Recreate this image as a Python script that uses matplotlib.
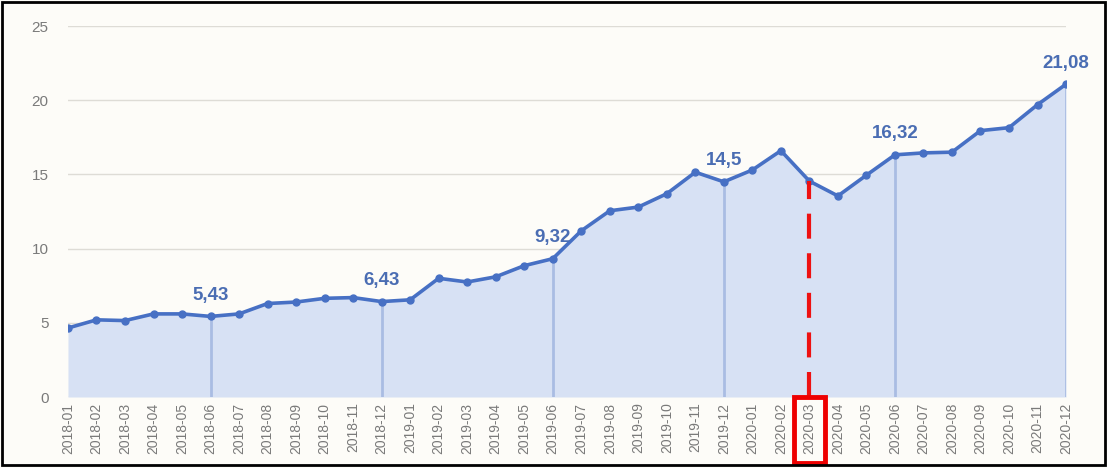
"""Monthly series 2018-2020 with highlighted points."""

import matplotlib
matplotlib.use("Agg")
import matplotlib.pyplot as plt
import matplotlib.transforms as mtransforms
from matplotlib.patches import Rectangle

months = [f"{y}-{m:02d}" for y in (2018, 2019, 2020) for m in range(1, 13)]
values = [
    4.65, 5.2, 5.15, 5.6, 5.6, 5.43, 5.6, 6.3, 6.4, 6.65, 6.7, 6.43,
    6.55, 8.0, 7.75, 8.1, 8.85, 9.32, 11.2, 12.55, 12.8, 13.7, 15.15, 14.5,
    15.3, 16.6, 14.55, 13.55, 14.95, 16.32, 16.45, 16.5, 17.95, 18.15, 19.7, 21.08,
]
labelled = ["2018-06", "2018-12", "2019-06", "2019-12", "2020-06", "2020-12"]
label_texts = ["5,43", "6,43", "9,32", "14,5", "16,32", "21,08"]
highlight = "2020-03"

LINE = "#4770c4"
FILL = "#d7e1f4"
DROP = "#a9bce3"
TEXT = "#4a6db3"
GREY = "#7a7a7a"
BG = "#fdfcf8"

fig = plt.figure(figsize=(11.07, 4.68), dpi=100, facecolor=BG)
ax = fig.add_axes([0.0614, 0.1517, 0.9016, 0.7927], facecolor=BG)

x = list(range(len(months)))
ax.fill_between(x, values, 0, color=FILL, lw=0, zorder=1)

for name in labelled:
    i = months.index(name)
    ax.plot([i, i], [0, values[i]], color=DROP, lw=2, zorder=2)

hi = months.index(highlight)
ax.plot([hi, hi], [0, values[hi]], color="#ee1111", lw=3, ls=(0, (6, 3.5)), zorder=4)

ax.plot(x, values, color=LINE, lw=2.6, marker="o", ms=5, zorder=3)

for name, txt in zip(labelled, label_texts):
    i = months.index(name)
    ax.annotate(txt, (i, values[i]), xytext=(0, 9), textcoords="offset points",
                ha="center", va="bottom", color=TEXT, fontsize=13.5,
                fontweight="bold", family="Liberation Sans")

ax.set_xlim(0, len(months) - 1)
ax.set_ylim(0, 25)
ax.set_yticks([0, 5, 10, 15, 20, 25])
ax.set_xticks(x)
ax.set_xticklabels(months, rotation=90, family="Liberation Sans", fontsize=10, color=GREY)
for lbl in ax.get_yticklabels():
    lbl.set_family("Liberation Sans")
ax.tick_params(axis="y", length=0, pad=14, labelsize=11, labelcolor=GREY)
ax.tick_params(axis="x", length=0, pad=4)
ax.grid(axis="y", color="#dedcd6", lw=1)
ax.set_axisbelow(True)
for spine in ax.spines.values():
    spine.set_visible(False)

trans = mtransforms.blended_transform_factory(ax.transData, ax.transAxes)
ax.add_patch(Rectangle((hi - 0.55, -0.178), 1.1, 0.178, transform=trans,
                       fill=False, edgecolor="#ee0000", lw=3.5, clip_on=False, zorder=5))

fig.patches.append(Rectangle((0.002, 0.006), 0.996, 0.99, transform=fig.transFigure,
                             fill=False, edgecolor="black", lw=2))

fig.savefig("out.png", dpi=100, facecolor=BG)
